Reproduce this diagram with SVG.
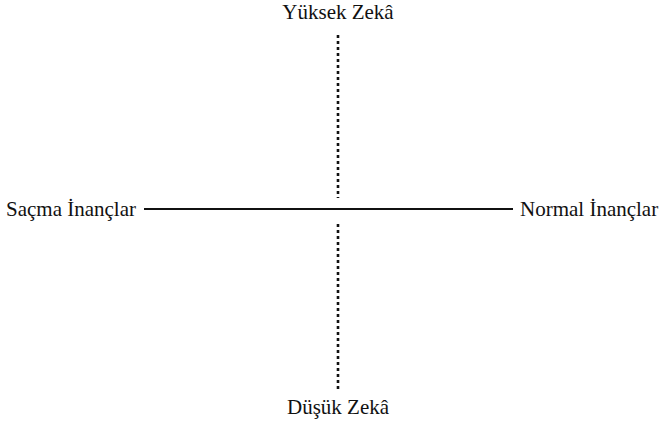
<svg xmlns="http://www.w3.org/2000/svg" width="669" height="426" viewBox="0 0 669 426">
<style>
text{font-family:"Liberation Serif","Times New Roman",serif;font-size:21px;fill:#111}
.dot{stroke:#111;stroke-width:2.6;stroke-dasharray:3 3;fill:none}
.solid{stroke:#111;stroke-width:2;fill:none}
</style>
<rect width="669" height="426" fill="#fff"/>
<g id="connectors">
<line class="dot" x1="338" y1="35" x2="338" y2="198"/>
<line class="dot" x1="338" y1="224" x2="338" y2="390"/>
<line class="solid" x1="144" y1="209" x2="513" y2="209"/>
</g>
<g id="top"><text x="338" y="19" text-anchor="middle">Yüksek Zekâ</text></g>
<g id="bottom"><text x="338" y="414" text-anchor="middle">Düşük Zekâ</text></g>
<g id="left"><text x="6" y="216">Saçma İnançlar</text></g>
<g id="right"><text x="520" y="216">Normal İnançlar</text></g>
</svg>
